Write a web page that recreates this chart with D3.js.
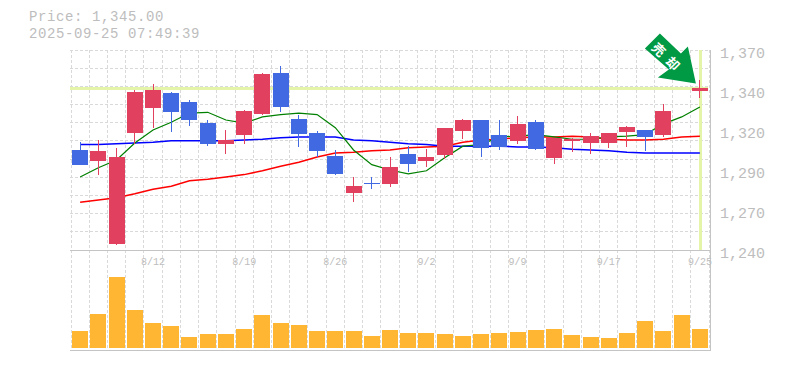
<!DOCTYPE html>
<html>
<head>
<meta charset="utf-8">
<script src="https://d3js.org/d3.v7.min.js"></script>
<style>
  html, body { margin: 0; padding: 0; background: #fff; }
  svg { display: block; }
  text { font-family: 'Liberation Mono', monospace; fill: #bdbdbd; }
</style>
</head>
<body>
<svg id="chart" width="785" height="370"></svg>
<script>
const dates = ['8/5','8/6','8/7','8/8','8/12','8/13','8/14','8/15','8/18','8/19','8/20','8/21','8/22','8/25','8/26','8/27','8/28','8/29','9/1','9/2','9/3','9/4','9/5','9/8','9/9','9/10','9/11','9/12','9/16','9/17','9/18','9/19','9/22','9/24','9/25'];
const xLabels = ['8/12','8/19','8/26','9/2','9/9','9/17','9/25'];

const opens = [1305,1298,1244,1316,1332,1342,1336,1322.5,1309,1315,1328.5,1355,1325,1316,1301,1277,1283.5,1283,1302.5,1298,1302,1317.5,1324.5,1315,1311,1323,1300,1311,1309.5,1309.5,1316.5,1318,1315,1352,1343.5];
const highs = [1310,1311.5,1306.5,1344,1348,1343,1337.5,1324.5,1318,1331,1355,1359.5,1328,1317.5,1305,1287.5,1287.5,1300.5,1307.5,1305.5,1319,1325,1324.5,1324.5,1327,1324.5,1313,1313,1316,1316,1320.5,1318,1335,1365,1350.5];
const lows = [1295,1289,1243,1309,1319,1317,1320.5,1307.5,1302.5,1309,1328,1329.5,1307,1300.5,1289,1271,1279.5,1281,1291,1294,1299,1312,1300.5,1305,1309,1305,1296,1303.5,1302.5,1306.5,1307,1304.5,1313.5,1351,1338.5];
const closes = [1295,1304.5,1300.5,1343,1344,1330,1324.5,1309,1311.5,1330.5,1354.5,1333,1315.5,1304.5,1289.5,1281.5,1283,1294,1296,1300.5,1319,1324.5,1306.5,1307,1322,1305.5,1313,1312,1314,1316,1320,1313.5,1330.5,1363.5,1345];

const maShort = [1287.5,1293.5,1298.5,1309.5,1318,1323,1329,1329.5,1324.5,1322.5,1326.5,1328,1329,1328,1319.5,1305,1295.5,1292,1289.5,1291.5,1300,1307.5,1308.5,1313.5,1314,1315,1313.5,1312,1312,1313.5,1314,1315,1322,1326.5,1333];
const maMid = [1308.5,1308.5,1309,1309.5,1310,1311,1311,1311,1311,1311.5,1312,1313,1313.5,1313.5,1313.5,1311.5,1311,1310,1309,1308.5,1307.5,1307.5,1307.5,1307.5,1307,1307,1306.5,1305.5,1305,1304.5,1303.5,1303,1303,1303,1303];
const maLong = [1271,1272.5,1274,1276.5,1279.5,1281.5,1285,1286,1287.5,1289,1291.5,1294.5,1297,1300.5,1303,1303.5,1304.5,1305,1306.5,1307,1307.5,1310,1311.5,1312,1313,1313.5,1313.5,1314,1313.5,1312,1311.5,1311.5,1312,1313.5,1314];

const volumes = [17,34,71,38,25,22,11,14,14,19,33,25,23,17,17,17,12,18,15,15,14,12,14,15,16,18,19,13,11,10,15,27,17,33,19];

const currentPrice = 1345;
const priceTicks = [1370,1344,1318,1292,1266,1240];
const priceTitle = 'Price: 1,345.00';
const timeTitle = '2025-09-25 07:49:39';
const arrowLabel = ['売','却'];

const fmt = d3.format(',');
const candles = dates.map((d, i) => ({ d, o: opens[i], h: highs[i], l: lows[i], c: closes[i] }));

const svg = d3.select('#chart');
const x = d3.scaleBand().domain(dates).range([71, 709]);
const y = d3.scaleLinear().domain([1240, 1370]).range([250, 50]);
const yVol = d3.scaleLinear().domain([0, 100]).range([348, 248]);
const cx = (d) => x(d) + x.bandwidth() / 2;
const barW = 16;

// grid
const grid = svg.append('g').attr('stroke', '#d9d9d9').attr('stroke-dasharray', '3,2').attr('shape-rendering', 'crispEdges');
grid.selectAll('.v').data(d3.range(36)).enter().append('line')
  .attr('x1', (i) => 71 + i * x.step()).attr('x2', (i) => 71 + i * x.step())
  .attr('y1', 50).attr('y2', 350);
grid.selectAll('.h').data(d3.range(11)).enter().append('line')
  .attr('x1', 70).attr('x2', 710)
  .attr('y1', (i) => y(1370) + i * 200 / 11).attr('y2', (i) => y(1370) + i * 200 / 11);

// current price cross
svg.append('line').attr('x1', 70).attr('x2', 708).attr('y1', y(currentPrice)).attr('y2', y(currentPrice))
  .attr('stroke', '#e4f4a8').attr('stroke-width', 3).attr('shape-rendering', 'crispEdges');
svg.append('line').attr('x1', cx(dates[34]) + 0.5).attr('x2', cx(dates[34]) + 0.5).attr('y1', 50).attr('y2', 250)
  .attr('stroke', '#e4f4a8').attr('stroke-width', 3).attr('shape-rendering', 'crispEdges');

// frame
const frame = svg.append('g').attr('stroke', '#c4c4c4').attr('shape-rendering', 'crispEdges');
frame.append('line').attr('x1', 70).attr('x2', 710).attr('y1', 250.5).attr('y2', 250.5);
frame.append('line').attr('x1', 70).attr('x2', 710).attr('y1', 350.5).attr('y2', 350.5);
frame.append('line').attr('x1', 710.5).attr('x2', 710.5).attr('y1', 50).attr('y2', 351);

// moving averages
const line = d3.line().x((v, i) => cx(dates[i])).y((v) => y(v));
[[maLong, '#ff0000', 1.5], [maMid, '#0000ff', 1.5], [maShort, '#008000', 1.2]].forEach(([vals, col, w]) => {
  svg.append('path').datum(vals).attr('d', line).attr('fill', 'none').attr('stroke', col).attr('stroke-width', w);
});

// candles
const up = '#e2405f';
const down = '#4169e1';
const g = svg.selectAll('g.candle').data(candles).enter().append('g').attr('class', 'candle').attr('shape-rendering', 'crispEdges');
g.append('line')
  .attr('x1', (d) => cx(d.d)).attr('x2', (d) => cx(d.d))
  .attr('y1', (d) => y(d.h)).attr('y2', (d) => y(d.l))
  .attr('stroke', (d) => (d.c >= d.o ? up : down)).attr('stroke-width', 1);
g.append('rect')
  .attr('x', (d) => cx(d.d) - barW / 2).attr('width', barW)
  .attr('y', (d) => y(Math.max(d.o, d.c)))
  .attr('height', (d) => Math.max(1, Math.abs(y(d.o) - y(d.c))))
  .attr('fill', (d) => (d.c >= d.o ? up : down));

// volume
svg.selectAll('rect.vol').data(volumes).enter().append('rect').attr('class', 'vol')
  .attr('x', (v, i) => cx(dates[i]) - barW / 2).attr('width', barW)
  .attr('y', (v) => yVol(v)).attr('height', (v) => yVol(0) - yVol(v))
  .attr('fill', '#ffb733').attr('shape-rendering', 'crispEdges');

// labels
svg.append('text').attr('x', 29).attr('y', 21).attr('font-size', 14).attr('letter-spacing', 0.6).text(priceTitle);
svg.append('text').attr('x', 29).attr('y', 38).attr('font-size', 14).attr('letter-spacing', 0.6).text(timeTitle);
svg.selectAll('text.py').data(priceTicks).enter().append('text').attr('class', 'py')
  .attr('x', 720).attr('y', (v) => y(v) + 8).attr('font-size', 15)
  .text((v) => fmt(Math.round(v / 10) * 10));
svg.selectAll('text.dt').data(xLabels).enter().append('text').attr('class', 'dt')
  .attr('x', (d) => cx(d)).attr('y', 265).attr('text-anchor', 'middle').attr('font-size', 10)
  .text((d) => d);

// arrow
const arrow = svg.append('g').attr('transform', `translate(${cx(dates[34]) - 4},${y(currentPrice) - 5})`);
arrow.append('path').attr('d', 'M0,0 L-38,-6 L-27,-14 L-51,-35 L-36,-50 L-15,-30 L-8,-37 Z').attr('fill', '#009944');
arrow.selectAll('text').data(arrowLabel).enter().append('text')
  .attr('transform', (d, i) => `translate(${-37 + i * 14},${-34 + i * 14}) rotate(45)`)
  .attr('text-anchor', 'middle').attr('y', 5)
  .style('fill', '#fff').style('font-family', "'Noto Sans CJK JP'").style('font-weight', 700).attr('font-size', 13)
  .text((d) => d);
</script>
</body>
</html>
